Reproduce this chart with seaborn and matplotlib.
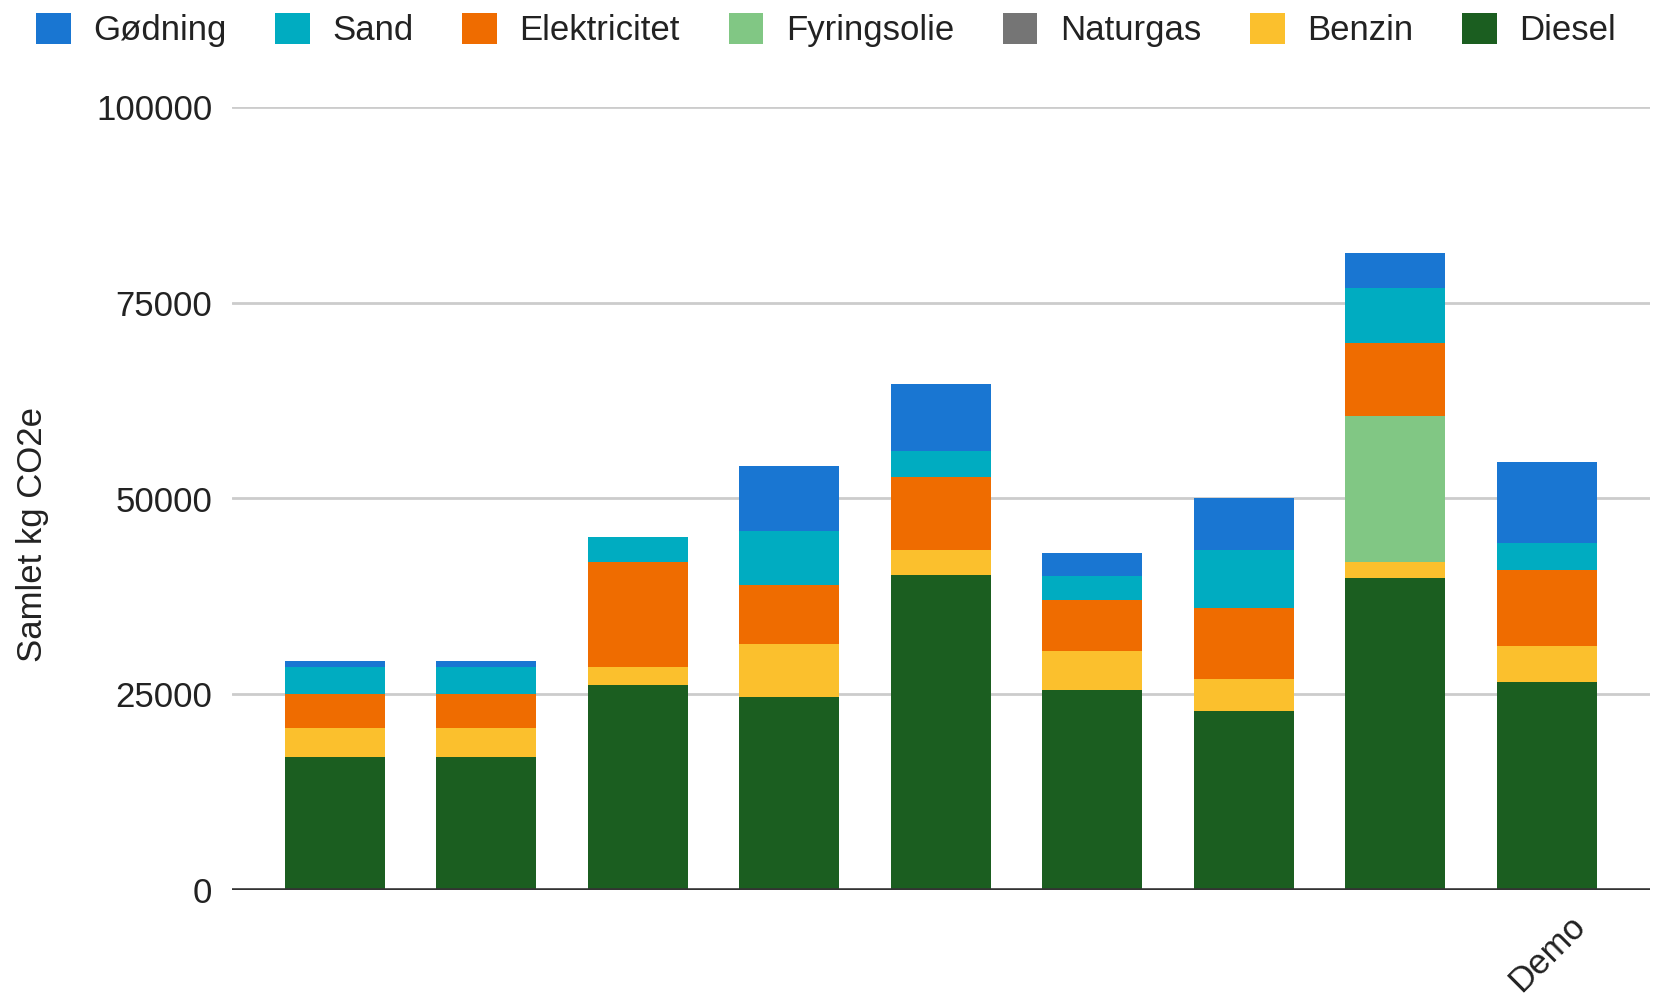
import pandas as pd
import numpy as np
import matplotlib
matplotlib.use('Agg')
import matplotlib.pyplot as plt
from matplotlib.patches import Patch
import seaborn as sns

# ------------------------------------------------------------
# DATA (kg CO2e per source)
# ------------------------------------------------------------
bar_ids = ['b1', 'b2', 'b3', 'b4', 'b5', 'b6', 'b7', 'b8', 'b9']
bar_labels = ['', '', '', '', '', '', '', '', 'Demo']

diesel       = [17000, 17000, 26200, 24700, 40300, 25500, 22900, 39900, 26600]
benzin       = [3700, 3700, 2300, 6700, 3100, 5100, 4100, 2000, 4600]
naturgas     = [0, 0, 0, 0, 0, 0, 0, 0, 0]
fyringsolie  = [0, 0, 0, 0, 0, 0, 0, 18600, 0]
elektricitet = [4400, 4400, 13400, 7500, 9300, 6500, 9000, 9400, 9700]
sand         = [3400, 3400, 3200, 7000, 3400, 3000, 7400, 7000, 3400]
godning      = [700, 700, 0, 8200, 8500, 3000, 6600, 4400, 10300]

# stacking order, bottom to top
layers = ['Diesel', 'Benzin', 'Naturgas', 'Fyringsolie', 'Elektricitet', 'Sand', 'Gødning']
colors = {
    'Gødning': '#1976D2',
    'Sand': '#00ACC1',
    'Elektricitet': '#EF6C00',
    'Fyringsolie': '#81C784',
    'Naturgas': '#757575',
    'Benzin': '#FBC02D',
    'Diesel': '#1B5E20',
}
legend_order = ['Gødning', 'Sand', 'Elektricitet', 'Fyringsolie', 'Naturgas', 'Benzin', 'Diesel']

df = pd.DataFrame({
    'Bar': bar_ids,
    'Diesel': diesel,
    'Benzin': benzin,
    'Naturgas': naturgas,
    'Fyringsolie': fyringsolie,
    'Elektricitet': elektricitet,
    'Sand': sand,
    'Gødning': godning,
})

# cumulative totals so the layers can be drawn on top of each other
cum = df[layers].cumsum(axis=1)
cum['Bar'] = df['Bar']

# ------------------------------------------------------------
# PLOT
# ------------------------------------------------------------
sns.set_theme(style='white')
plt.rcParams['font.family'] = ['Liberation Sans', 'DejaVu Sans']
FS = 25

fig = plt.figure(figsize=(16.55, 9.97), dpi=100)
ax = fig.add_axes([0.140, 0.107, 0.857, 0.786])

# draw tallest (top layer) first, finish with the bottom layer
for layer in reversed(layers):
    sns.barplot(data=cum, x='Bar', y=layer, order=bar_ids, color=colors[layer],
                width=0.66, saturation=1, ax=ax, zorder=3, linewidth=0)

ax.set_ylim(0, 100000)
ax.set_xlim(-0.68, len(bar_ids) - 1 + 0.68)
ax.set_yticks([0, 25000, 50000, 75000, 100000])
ax.set_yticklabels(['0', '25000', '50000', '75000', '100000'], fontsize=FS, color='#222222')
ax.yaxis.grid(True, color='#cccccc', linewidth=2, zorder=0)
ax.set_axisbelow(True)
ax.axhline(0, color='#333333', linewidth=2.6, zorder=4)
ax.tick_params(axis='both', length=0, pad=14)

ax.set_xticks(range(len(bar_ids)))
ax.set_xticklabels(bar_labels, rotation=45, ha='right', rotation_mode='anchor',
                   fontsize=FS, color='#222222')
for lbl in ax.get_xticklabels():
    lbl.set_transform(lbl.get_transform() +
                      matplotlib.transforms.ScaledTranslation(0.21, 0.01, fig.dpi_scale_trans))

ax.set_xlabel('')
ax.set_ylabel('Samlet kg CO2e', fontsize=FS, color='#222222')
ax.yaxis.set_label_coords(-0.129, 0.454)
for s in ax.spines.values():
    s.set_visible(False)

handles = [Patch(facecolor=colors[k], edgecolor='none', label=k) for k in legend_order]
fig.legend(handles=handles, loc='center', bbox_to_anchor=(0.499, 0.970), ncol=7,
           frameon=False, fontsize=FS, handlelength=1.0, handleheight=1.0,
           handletextpad=0.65, columnspacing=1.4, labelcolor='#222222')

plt.savefig('out.png', dpi=100)
plt.close()
